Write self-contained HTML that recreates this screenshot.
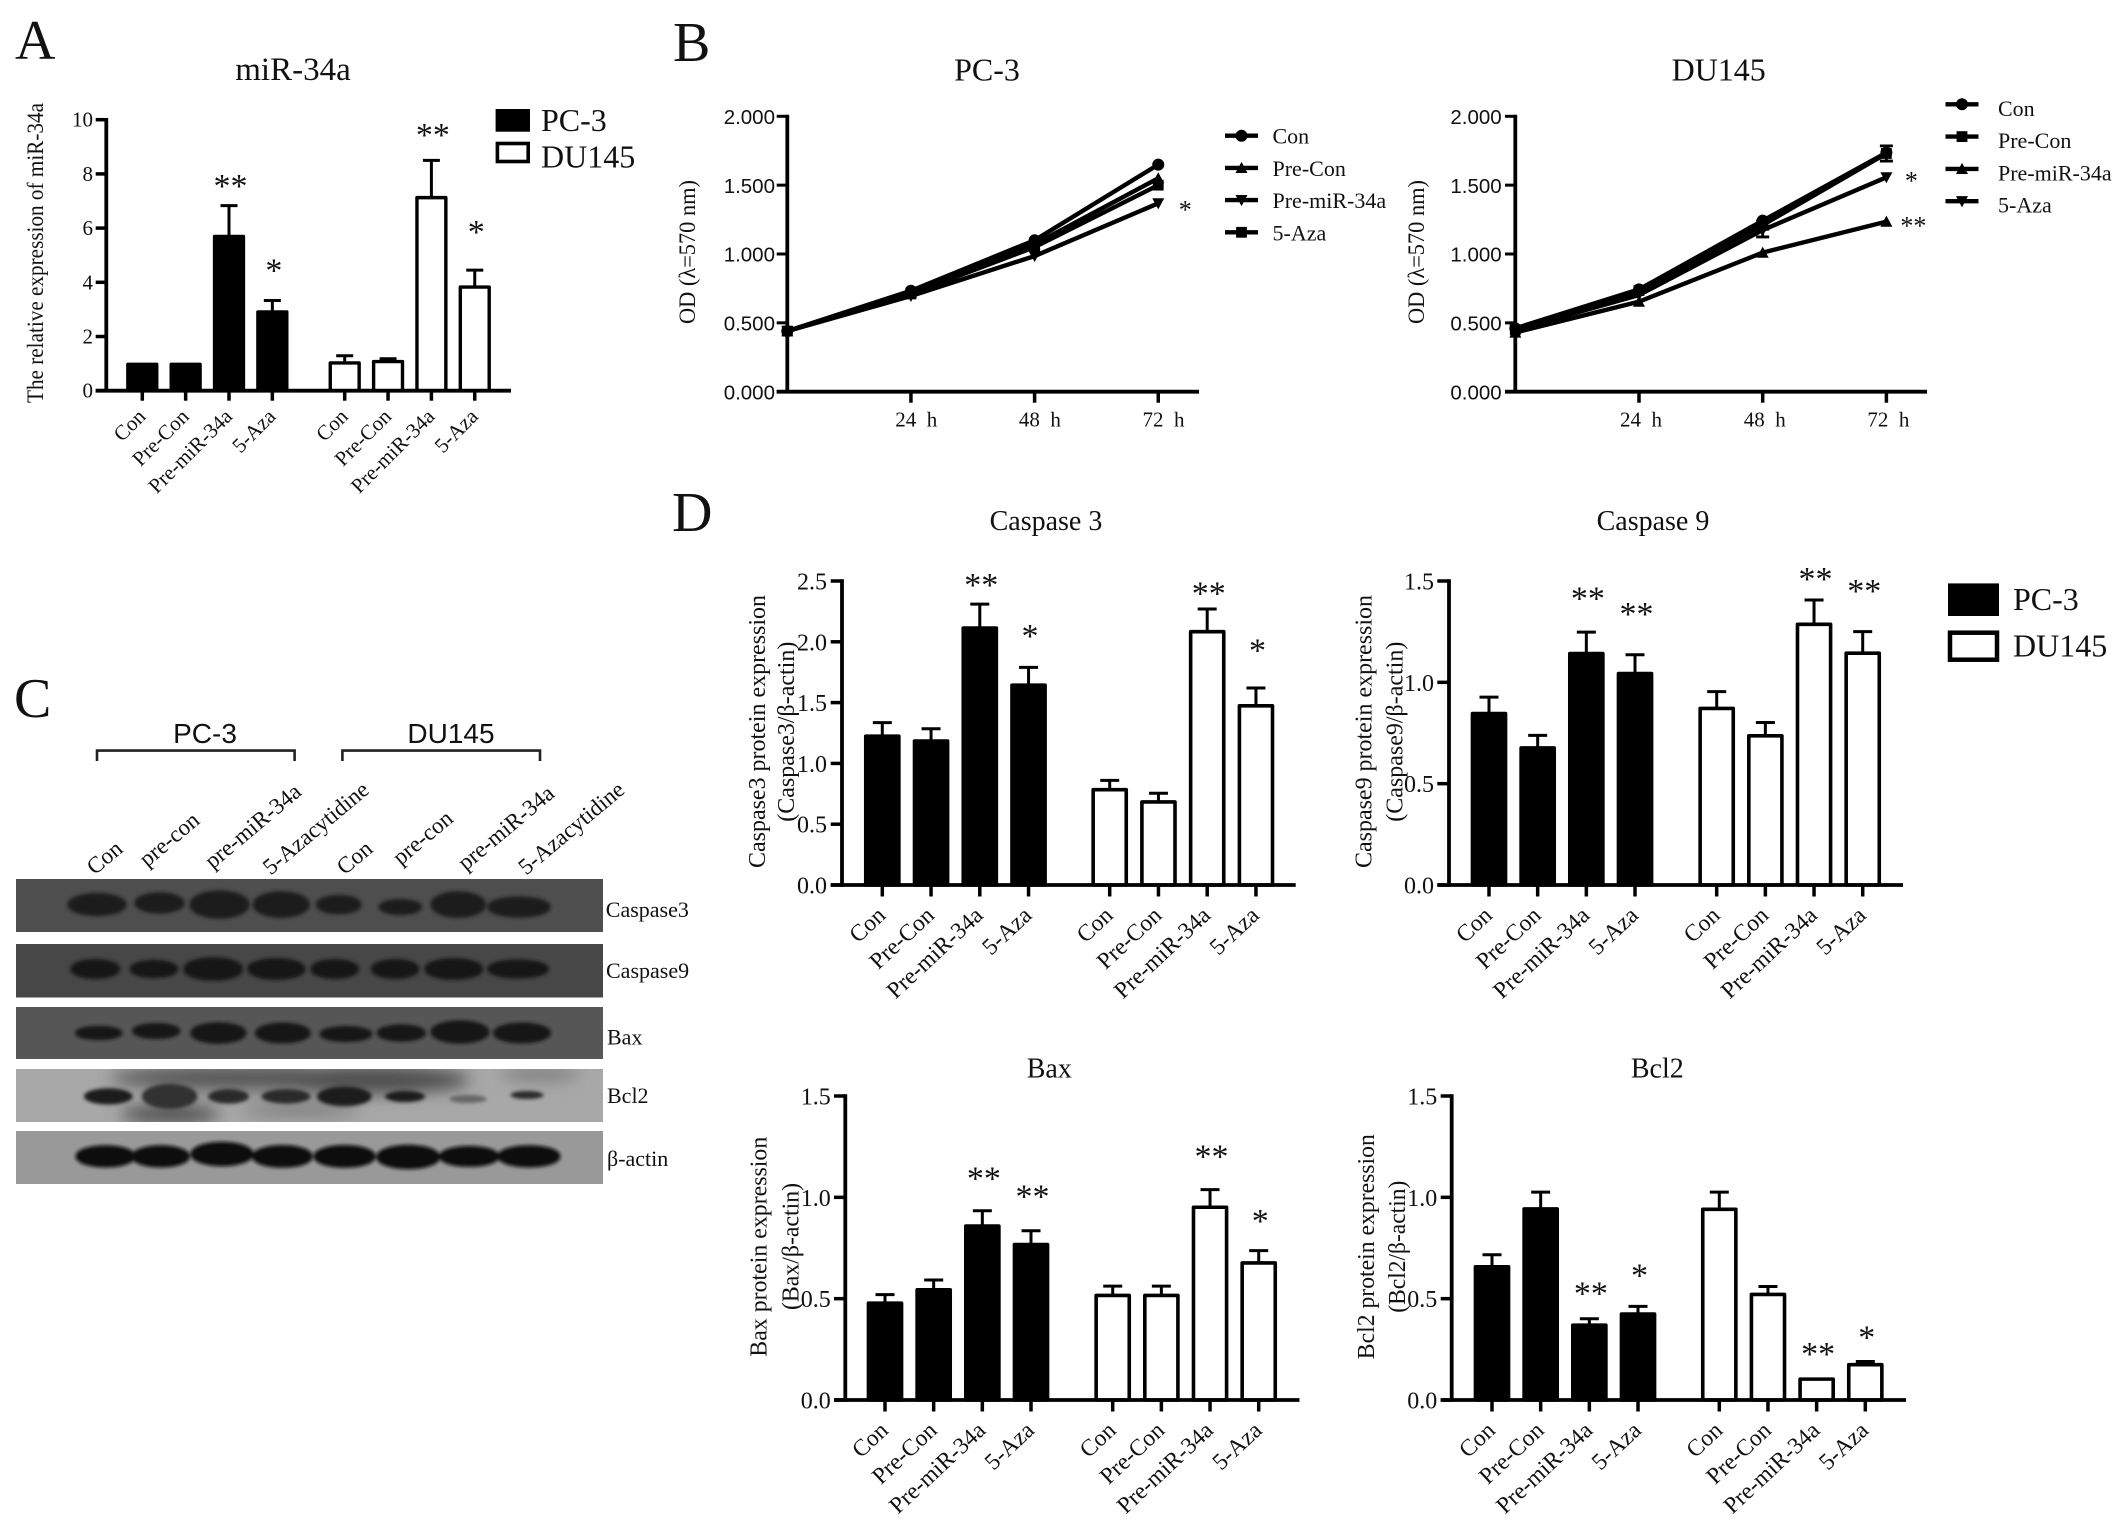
<!DOCTYPE html>
<html>
<head>
<meta charset="utf-8">
<title>miR-34a figure</title>
<style>
html,body{margin:0;padding:0;background:#fff;}
svg{display:block;}
text{font-family:"Liberation Serif","Noto Serif CJK SC",serif;fill:#111;}
.sans{font-family:"Liberation Sans","Noto Sans CJK SC",sans-serif;}
</style>
</head>
<body>
<svg id="figure" xmlns="http://www.w3.org/2000/svg" width="2126" height="1535" viewBox="0 0 2126 1535">
<defs>
<filter id="bandBlur" x="-30%" y="-60%" width="160%" height="220%"><feGaussianBlur stdDeviation="1.8"/></filter>
<filter id="smudgeBlur" x="-40%" y="-150%" width="180%" height="400%"><feGaussianBlur stdDeviation="8"/></filter>
<clipPath id="bcl2Clip"><rect x="16" y="1069" width="587" height="53"/></clipPath>
</defs>
<rect width="2126" height="1535" fill="#fff"/>

<text x="15" y="59" font-size="56">A</text>
<text x="673" y="61" font-size="56">B</text>
<text x="14" y="717" font-size="56">C</text>
<text x="672" y="531" font-size="56">D</text>

<text x="293" y="80" font-size="33" text-anchor="middle">miR-34a</text>
<text transform="translate(43 253) rotate(-90)" font-size="23" text-anchor="middle" textLength="300" lengthAdjust="spacingAndGlyphs">The relative expression of miR-34a</text>
<rect x="495.6" y="109" width="34.4" height="22.7" fill="#000"/>
<text x="541" y="131" font-size="32">PC-3</text>
<rect x="497.4" y="143.5" width="30.8" height="18" fill="#fff" stroke="#000" stroke-width="3.6"/>
<text x="541" y="167.7" font-size="32">DU145</text>

<text x="987" y="80.7" font-size="32" text-anchor="middle">PC-3</text>
<text x="1718.7" y="80.7" font-size="32" text-anchor="middle">DU145</text>
<text transform="translate(695 252) rotate(-90)" font-size="23" text-anchor="middle" textLength="144" lengthAdjust="spacingAndGlyphs">OD (λ=570 nm)</text>
<text transform="translate(1424 252) rotate(-90)" font-size="23" text-anchor="middle" textLength="144" lengthAdjust="spacingAndGlyphs">OD (λ=570 nm)</text>

<g>
<text class="sans" x="205" y="743" font-size="28" text-anchor="middle">PC-3</text>
<text class="sans" x="451" y="743" font-size="28" text-anchor="middle">DU145</text>
<path d="M97 761V750.6H294.6V761" fill="none" stroke="#222" stroke-width="2.6"/>
<path d="M342.4 761V750.6H540V761" fill="none" stroke="#222" stroke-width="2.6"/>

<text font-size="23" text-anchor="end" transform="translate(124 851) rotate(-40)">Con</text>
<text font-size="23" text-anchor="end" transform="translate(201 822.5) rotate(-40)">pre-con</text>
<text font-size="23" text-anchor="end" transform="translate(302.7 794) rotate(-40)">pre-miR-34a</text>
<text font-size="23" text-anchor="end" transform="translate(370.5 792) rotate(-40)">5-Azacytidine</text>
<text font-size="23" text-anchor="end" transform="translate(374 851) rotate(-40)">Con</text>
<text font-size="23" text-anchor="end" transform="translate(454.5 820.7) rotate(-40)">pre-con</text>
<text font-size="23" text-anchor="end" transform="translate(555.8 795.7) rotate(-40)">pre-miR-34a</text>
<text font-size="23" text-anchor="end" transform="translate(626 792) rotate(-40)">5-Azacytidine</text>

<g>
<rect x="16" y="879" width="587" height="53" fill="#4e4e4e"/>
<g fill="#1c1c1c" stroke="#1c1c1c" stroke-width="3.5" filter="url(#bandBlur)">
<ellipse cx="97.1" cy="904.6" rx="27.9" ry="9.8"/><ellipse cx="159.5" cy="903" rx="23.4" ry="8.9"/><ellipse cx="219.5" cy="904.6" rx="28.3" ry="12.5"/><ellipse cx="281.3" cy="904.6" rx="26.8" ry="11.6"/><ellipse cx="338.7" cy="904.6" rx="21.2" ry="8"/><ellipse cx="400.4" cy="907" rx="20" ry="6.3"/><ellipse cx="458.3" cy="904.6" rx="26" ry="11.6"/><ellipse cx="519" cy="907" rx="30" ry="8.9"/>
</g></g>
<g>
<rect x="16" y="944" width="587" height="53.5" fill="#474747"/>
<g fill="#171717" stroke="#171717" stroke-width="4" filter="url(#bandBlur)">
<ellipse cx="95.3" cy="969" rx="23" ry="8"/><ellipse cx="154" cy="969" rx="22.3" ry="7.1"/><ellipse cx="213.2" cy="969" rx="27.9" ry="9.8"/><ellipse cx="276.3" cy="969" rx="27.2" ry="8.9"/><ellipse cx="334.8" cy="969" rx="22.3" ry="8"/><ellipse cx="395.1" cy="969" rx="22.3" ry="8"/><ellipse cx="453.8" cy="969" rx="27.5" ry="8.9"/><ellipse cx="517.9" cy="969" rx="29" ry="7.5"/>
</g></g>
<g>
<rect x="16" y="1007" width="587" height="52" fill="#565656"/>
<g fill="#121212" stroke="#121212" stroke-width="3.5" filter="url(#bandBlur)">
<ellipse cx="98.7" cy="1033" rx="21.9" ry="5.4"/><ellipse cx="156.3" cy="1031" rx="22.3" ry="6.3"/><ellipse cx="218.3" cy="1033" rx="26.3" ry="8.9"/><ellipse cx="282.9" cy="1033" rx="26.1" ry="8.6"/><ellipse cx="346" cy="1034" rx="24.6" ry="6.3"/><ellipse cx="401.3" cy="1033" rx="22.8" ry="6.8"/><ellipse cx="460" cy="1032" rx="27.7" ry="9.8"/><ellipse cx="522" cy="1033" rx="27.2" ry="8.6"/>
</g></g>
<g>
<rect x="16" y="1069" width="587" height="53" fill="#a8a8a8"/>
<g clip-path="url(#bcl2Clip)" filter="url(#smudgeBlur)">
<ellipse cx="240" cy="1078" rx="130" ry="12" fill="#555"/><ellipse cx="170" cy="1114" rx="50" ry="9" fill="#4c4c4c"/><ellipse cx="370" cy="1080" rx="100" ry="14" fill="#4e4e4e"/><ellipse cx="540" cy="1074" rx="40" ry="6" fill="#777"/><ellipse cx="300" cy="1110" rx="60" ry="6" fill="#777"/>
</g>
<g fill="#1c1c1c" filter="url(#bandBlur)">
<ellipse cx="108.3" cy="1096.4" rx="24.4" ry="8.1"/><ellipse cx="169.6" cy="1096.4" rx="27.8" ry="12.6" fill="#333"/><ellipse cx="228.5" cy="1096.4" rx="20.4" ry="7.3" fill="#2a2a2a"/><ellipse cx="286" cy="1096.4" rx="24.4" ry="7.3" fill="#2a2a2a"/><ellipse cx="344.3" cy="1096.4" rx="27.3" ry="9.9"/><ellipse cx="405" cy="1096.4" rx="20" ry="5.6"/><ellipse cx="468" cy="1099" rx="18.9" ry="4" fill="#666"/><ellipse cx="527" cy="1095" rx="16.6" ry="4" fill="#2a2a2a"/>
</g></g>
<g>
<rect x="16" y="1131" width="587" height="53" fill="#999"/>
<g fill="#0f0f0f" stroke="#0f0f0f" stroke-width="5" filter="url(#bandBlur)">
<ellipse cx="105.5" cy="1156.4" rx="27.5" ry="8.6"/><ellipse cx="160.7" cy="1156.4" rx="26.8" ry="8.6"/><ellipse cx="222" cy="1154" rx="29" ry="9.8"/><ellipse cx="282.4" cy="1156.4" rx="27.9" ry="8.9"/><ellipse cx="344.6" cy="1156.4" rx="28.6" ry="8.9"/><ellipse cx="408.2" cy="1157" rx="29.5" ry="9.8"/><ellipse cx="469.3" cy="1156.4" rx="27.7" ry="8"/><ellipse cx="529" cy="1156.4" rx="29" ry="8.6"/>
</g></g>
<text x="605.8" y="917" font-size="22">Caspase3</text>
<text x="606" y="978" font-size="22">Caspase9</text>
<text x="607" y="1044.6" font-size="22">Bax</text>
<text x="607" y="1103" font-size="22">Bcl2</text>
<text x="607" y="1166" font-size="22">β-actin</text>
</g>

<text x="1046" y="530" font-size="28" text-anchor="middle">Caspase 3</text>
<text x="1653" y="530" font-size="28" text-anchor="middle">Caspase 9</text>
<text x="1049.3" y="1077.3" font-size="28" text-anchor="middle">Bax</text>
<text x="1657.3" y="1077.3" font-size="28" text-anchor="middle">Bcl2</text>

<text transform="translate(765 731.5) rotate(-90)" font-size="24" text-anchor="middle" textLength="273" lengthAdjust="spacingAndGlyphs">Caspase3 protein expression</text>
<text transform="translate(794 731.7) rotate(-90)" font-size="24" text-anchor="middle" textLength="180" lengthAdjust="spacingAndGlyphs">(Caspase3/β-actin)</text>
<text transform="translate(1371.7 731.5) rotate(-90)" font-size="24" text-anchor="middle" textLength="273" lengthAdjust="spacingAndGlyphs">Caspase9 protein expression</text>
<text transform="translate(1402.7 731.7) rotate(-90)" font-size="24" text-anchor="middle" textLength="180" lengthAdjust="spacingAndGlyphs">(Caspase9/β-actin)</text>
<text transform="translate(766.7 1246.7) rotate(-90)" font-size="24" text-anchor="middle" textLength="220" lengthAdjust="spacingAndGlyphs">Bax protein expression</text>
<text transform="translate(798.3 1246.5) rotate(-90)" font-size="24" text-anchor="middle" textLength="127" lengthAdjust="spacingAndGlyphs">(Bax/β-actin)</text>
<text transform="translate(1374 1246.7) rotate(-90)" font-size="24" text-anchor="middle" textLength="225" lengthAdjust="spacingAndGlyphs">Bcl2 protein expression</text>
<text transform="translate(1405 1246.7) rotate(-90)" font-size="24" text-anchor="middle" textLength="132" lengthAdjust="spacingAndGlyphs">(Bcl2/β-actin)</text>

<rect x="1948" y="583.4" width="51" height="32.6" fill="#000"/>
<text x="2013" y="610" font-size="32">PC-3</text>
<rect x="1950" y="632.7" width="47" height="27" fill="#fff" stroke="#000" stroke-width="4.5"/>
<text x="2013" y="656.5" font-size="32">DU145</text>
</svg>

<script>
// Shared categories
var barCategories = ['Con', 'Pre-Con', 'Pre-miR-34a', '5-Aza', 'Con', 'Pre-Con', 'Pre-miR-34a', '5-Aza'];
var lineTimes = [0, 24, 48, 72];
var lineTimeLabels = ['', '24\u00a0\u00a0h', '48\u00a0\u00a0h', '72\u00a0\u00a0h'];
var lineSeriesNames = ['Con', 'Pre-Con', 'Pre-miR-34a', '5-Aza'];
var lineYTicks = ['2.000', '1.500', '1.000', '0.500', '0.000'];

// Panel A: miR-34a
var mirTicks = ['10', '8', '6', '4', '2', '0'];
var mirValues = [1, 1, 5.72, 2.93, 1.05, 1.1, 7.15, 3.85];
var mirCaps = [1, 1, 6.83, 3.33, 1.29, 1.18, 8.5, 4.45];
var mirStars = ['', '', '**', '*', '', '', '**', '*'];
var mirStarLevels = [0, 0, 7.7, 4.58, 0, 0, 9.58, 6.01];

// Panel D: Caspase 3
var c3Ticks = ['2.5', '2.0', '1.5', '1.0', '0.5', '0.0'];
var c3Values = [1.23, 1.19, 2.12, 1.65, 0.79, 0.69, 2.09, 1.48];
var c3Caps = [1.335, 1.285, 2.31, 1.79, 0.86, 0.755, 2.27, 1.62];
var c3Stars = ['', '', '**', '*', '', '', '**', '*'];
var c3StarLevels = [0, 0, 2.5, 2.08, 0, 0, 2.43, 1.96];

// Panel D: Caspase 9
var c9Ticks = ['1.5', '1.0', '0.5', '0.0'];
var c9Values = [0.85, 0.68, 1.146, 1.047, 0.875, 0.74, 1.29, 1.148];
var c9Caps = [0.927, 0.738, 1.248, 1.136, 0.954, 0.802, 1.406, 1.25];
var c9Stars = ['', '', '**', '**', '', '', '**', '**'];
var c9StarLevels = [0, 0, 1.434, 1.357, 0, 0, 1.529, 1.47];

// Panel D: Bax
var baxTicks = ['1.5', '1.0', '0.5', '0.0'];
var baxValues = [0.482, 0.548, 0.862, 0.771, 0.52, 0.52, 0.955, 0.68];
var baxCaps = [0.52, 0.592, 0.934, 0.835, 0.562, 0.562, 1.038, 0.737];
var baxStars = ['', '', '**', '**', '', '', '**', '*'];
var baxStarLevels = [0, 0, 1.113, 1.023, 0, 0, 1.22, 0.903];

// Panel D: Bcl2
var bclTicks = ['1.5', '1.0', '0.5', '0.0'];
var bclValues = [0.661, 0.947, 0.373, 0.428, 0.945, 0.525, 0.107, 0.178];
var bclCaps = [0.717, 1.026, 0.401, 0.462, 1.026, 0.56, 0.107, 0.19];
var bclStars = ['', '', '**', '*', '', '', '**', '*'];
var bclStarLevels = [0, 0, 0.546, 0.633, 0, 0, 0.247, 0.329];

// Panel B: PC-3 growth (OD at 0, 24, 48, 72 h)
var pcCon = [0.44, 0.733, 1.1, 1.649];
var pcPreCon = [0.44, 0.72, 1.07, 1.55];
var pcPreMir = [0.44, 0.695, 0.985, 1.368];
var pcAza = [0.44, 0.71, 1.05, 1.5];
var pcStarLevel = 1.34;

// Panel B: DU145 growth
var duCon = [0.46, 0.743, 1.242, 1.736];
var duPreCon = [0.45, 0.735, 1.21, 1.73];
var duPreMir = [0.43, 0.654, 1.01, 1.235];
var duAza = [0.45, 0.702, 1.174, 1.557];
var duPreConErr = [0, 0, 0.03, 0.055];
var duAzaErr = [0, 0, 0.05, 0];
var duStarLevels = [1.552, 1.225];

var svg = document.getElementById('figure');
var NS = 'http://www.w3.org/2000/svg';

function mk(tag, parent, geom, txt) {
  var e = document.createElementNS(NS, tag);
  for (var k in geom) { e.setAttribute(k, geom[k]); }
  if (txt !== undefined) { e.textContent = txt; }
  parent.appendChild(e);
  return e;
}

function drawBarPanel(p) {
  var g = mk('g', svg, {});
  
  
  var yScale = function (v) { return p.base - v * (p.base - p.top) / p.max; };
  var xScale = function (i) { return i < 4 ? p.first + p.step * i : p.second + p.step * (i - 4); };
  var innerW = p.barW - p.sw;

  p.values.forEach(function (v, i) {
    var cx = xScale(i), cap = p.caps[i];
    if (cap > v) {
      var stem = mk('line', g, { x1: cx, x2: cx, y1: yScale(v), y2: yScale(cap), stroke: '#000', 'stroke-width': 3 });
      
      
      var capLine = mk('line', g, { x1: cx - p.capW / 2, x2: cx + p.capW / 2, y1: yScale(cap), y2: yScale(cap), stroke: '#000', 'stroke-width': 3 });
      
      
    }
    var topY = yScale(v) + p.sw / 2 - 1;
    var bar = mk('rect', g, { x: cx - innerW / 2, y: topY, width: innerW, height: Math.max(0, p.base - topY), fill: i < 4 ? '#000' : '#fff', stroke: '#000', 'stroke-width': p.sw, 'stroke-linejoin': 'round' });
    
    

    var tick = mk('line', g, { x1: cx, x2: cx, y1: p.base, y2: p.base + p.tickLen, stroke: '#000', 'stroke-width': 3.5 });
    
    

    var ax = cx + 4.5, ay = p.base + p.labelDrop;
    var lab = mk('text', g, { 'font-size': p.xFont, 'text-anchor': 'end', transform: 'translate(' + ax + ' ' + ay + ') rotate(' + p.xRot + ')' }, barCategories[i]);
    
    

    if (p.stars[i]) {
      var star = mk('text', g, { x: cx + 1.5, y: yScale(p.starLevels[i]) + 0.44 * 34, 'font-size': 34, 'text-anchor': 'middle' }, p.stars[i]);
      
      
    }
  });

  p.ticks.forEach(function (t) {
    var ty = yScale(parseFloat(t));
    var tm = mk('line', g, { x1: p.tickLeft, x2: p.axisX, y1: ty, y2: ty, stroke: '#000', 'stroke-width': 3.5 });
    
    
    var tl = mk('text', g, { x: p.labelRight, y: ty + p.yLabelDrop, 'font-size': p.yFont, 'text-anchor': 'end' }, t);
    
    
  });

  var yAxis = mk('line', g, { x1: p.axisX, x2: p.axisX, y1: p.top - 1.7, y2: p.base + 1.7, stroke: '#000', 'stroke-width': 3.8 });
  
  
  var xAxis = mk('line', g, { x1: p.tickLeft, x2: p.right, y1: p.base, y2: p.base, stroke: '#000', 'stroke-width': 3.8 });
  
  
}

function markerPath(kind, x, y, r) {
  if (kind === 'up') { return 'M' + (x - r) + ' ' + (y + r * 0.85) + 'L' + (x + r) + ' ' + (y + r * 0.85) + 'L' + x + ' ' + (y - r) + 'Z'; }
  if (kind === 'down') { return 'M' + (x - r) + ' ' + (y - r * 0.85) + 'L' + (x + r) + ' ' + (y - r * 0.85) + 'L' + x + ' ' + (y + r) + 'Z'; }
  if (kind === 'square') { return 'M' + (x - r) + ' ' + (y - r) + 'H' + (x + r) + 'V' + (y + r) + 'H' + (x - r) + 'Z'; }
  return 'M' + (x - r) + ' ' + y + 'A' + r + ' ' + r + ' 0 1 1 ' + (x + r) + ' ' + y + 'A' + r + ' ' + r + ' 0 1 1 ' + (x - r) + ' ' + y + 'Z';
}

function drawLinePanel(p) {
  var g = mk('g', svg, {});
  
  
  var maxY = 2;
  var yScale = function (v) { return p.base - v * (p.base - p.top) / maxY; };
  var xScale = function (h) { return p.axisX + h * p.pxPerHour; };

  lineYTicks.forEach(function (t) {
    var ty = yScale(parseFloat(t));
    var tm = mk('line', g, { x1: p.tickLeft, x2: p.axisX, y1: ty, y2: ty, stroke: '#000', 'stroke-width': 3 });
    
    
    var tl = mk('text', g, { x: p.labelRight, y: ty + 7.7, 'font-size': 20.5, 'text-anchor': 'end', 'class': 'sans' }, t);
    
    
  });

  lineTimes.forEach(function (h, i) {
    if (i === 0) { return; }
    var tx = xScale(h);
    var tk = mk('line', g, { x1: tx, x2: tx, y1: p.base, y2: p.base + 11, stroke: '#000', 'stroke-width': 3.5 });
    
    
    var tl = mk('text', g, { x: tx + p.xLabelDx, y: 426.4, 'font-size': 21 }, lineTimeLabels[i]);
    
    
  });

  var yAxis = mk('line', g, { x1: p.axisX, x2: p.axisX, y1: p.top - 1.5, y2: p.base + 1.5, stroke: '#000', 'stroke-width': 3.8 });
  
  
  var xAxis = mk('line', g, { x1: p.tickLeft, x2: p.right, y1: p.base, y2: p.base, stroke: '#000', 'stroke-width': 3.8 });
  
  

  p.series.forEach(function (s) {
    var pts = s.values.map(function (v, i) { return xScale(lineTimes[i]) + ',' + yScale(v); }).join(' ');
    var line = mk('polyline', g, { points: pts, fill: 'none', stroke: '#000', 'stroke-width': 4.4 });
    
    
    s.values.forEach(function (v, i) {
      var cx = xScale(lineTimes[i]), cy = yScale(v);
      var err = s.err ? s.err[i] : 0;
      if (err > 0) {
        var eb = mk('path', g, { d: 'M' + (cx - 6.5) + ' ' + yScale(v + err) + 'H' + (cx + 6.5) + 'M' + cx + ' ' + yScale(v + err) + 'V' + yScale(v - err) + 'M' + (cx - 6.5) + ' ' + yScale(v - err) + 'H' + (cx + 6.5), fill: 'none', stroke: '#000', 'stroke-width': 2.8 });
        
        
      }
      var m = mk('path', g, { d: markerPath(s.marker, cx, cy, s.marker === 'square' ? 5.4 : 6), fill: '#000' });
      
      
    });
  });

  p.series.forEach(function (s, i) {
    var ly = p.legendY + i * p.legendStep;
    var ll = mk('line', g, { x1: p.legendX, x2: p.legendX + 33, y1: ly, y2: ly, stroke: '#000', 'stroke-width': 4.4 });
    
    
    var lm = mk('path', g, { d: markerPath(s.marker, p.legendX + 16.5, ly, s.marker === 'square' ? 5.4 : 6), fill: '#000' });
    
    
    var lt = mk('text', g, { x: p.legendTextX, y: ly + p.legendTextDrop, 'font-size': 22 }, lineSeriesNames[i]);
    
    
  });

  p.marks.forEach(function (mark) {
    var st = mk('text', g, { x: xScale(72) + mark.dx, y: yScale(mark.level) + 0.44 * 26, 'font-size': 26, 'text-anchor': 'middle' }, mark.text);
    
    
  });
}

drawBarPanel({ values: mirValues, caps: mirCaps, stars: mirStars, starLevels: mirStarLevels, ticks: mirTicks, max: 10,
  axisX: 106.3, base: 390.7, top: 119.7, tickLeft: 95.7, right: 511, labelRight: 93, yLabelDrop: 7, yFont: 21,
  first: 142.3, second: 344.7, step: 43.35, barW: 32.3, sw: 3.4, capW: 17, tickLen: 10, labelDrop: 27, xFont: 21, xRot: -45 });

drawBarPanel({ values: c3Values, caps: c3Caps, stars: c3Stars, starLevels: c3StarLevels, ticks: c3Ticks, max: 2.5,
  axisX: 842, base: 885, top: 581, tickLeft: 830.7, right: 1295.7, labelRight: 827, yLabelDrop: 8.5, yFont: 24,
  first: 882.3, second: 1109.7, step: 48.75, barW: 36.7, sw: 3.6, capW: 19, tickLen: 11.5, labelDrop: 32, xFont: 23.5, xRot: -43 });

drawBarPanel({ values: c9Values, caps: c9Caps, stars: c9Stars, starLevels: c9StarLevels, ticks: c9Ticks, max: 1.5,
  axisX: 1449, base: 885, top: 581, tickLeft: 1437.3, right: 1903, labelRight: 1434, yLabelDrop: 8.5, yFont: 24,
  first: 1489, second: 1716.7, step: 48.67, barW: 36.7, sw: 3.6, capW: 19, tickLen: 11.5, labelDrop: 32, xFont: 23.5, xRot: -43 });

drawBarPanel({ values: baxValues, caps: baxCaps, stars: baxStars, starLevels: baxStarLevels, ticks: baxTicks, max: 1.5,
  axisX: 845.3, base: 1400, top: 1096, tickLeft: 834, right: 1299.5, labelRight: 830.7, yLabelDrop: 8.5, yFont: 24,
  first: 885, second: 1112.7, step: 48.67, barW: 36.7, sw: 3.6, capW: 19, tickLen: 11.5, labelDrop: 32, xFont: 23.5, xRot: -43 });

drawBarPanel({ values: bclValues, caps: bclCaps, stars: bclStars, starLevels: bclStarLevels, ticks: bclTicks, max: 1.5,
  axisX: 1451.7, base: 1400, top: 1096, tickLeft: 1440.7, right: 1906, labelRight: 1437.3, yLabelDrop: 8.5, yFont: 24,
  first: 1492, second: 1719.3, step: 48.67, barW: 36.7, sw: 3.6, capW: 19, tickLen: 11.5, labelDrop: 32, xFont: 23.5, xRot: -43 });

drawLinePanel({ axisX: 787.3, base: 391.7, top: 116.3, tickLeft: 776.7, right: 1199, labelRight: 775, pxPerHour: 5.152, xLabelDx: -15.7,
  legendX: 1225, legendY: 135.7, legendStep: 32.2, legendTextX: 1272.5, legendTextDrop: 8,
  series: [
    { values: pcCon, marker: 'circle' },
    { values: pcPreCon, marker: 'up' },
    { values: pcPreMir, marker: 'down' },
    { values: pcAza, marker: 'square' }
  ],
  marks: [{ text: '*', level: pcStarLevel, dx: 27 }] });

drawLinePanel({ axisX: 1515.3, base: 391.7, top: 116.3, tickLeft: 1505, right: 1927, labelRight: 1501.7, pxPerHour: 5.154, xLabelDx: -19,
  legendX: 1945.5, legendY: 104.3, legendStep: 32.3, legendTextX: 1998, legendTextDrop: 11.5,
  series: [
    { values: duCon, marker: 'circle' },
    { values: duPreCon, marker: 'square', err: duPreConErr },
    { values: duPreMir, marker: 'up' },
    { values: duAza, marker: 'down', err: duAzaErr }
  ],
  marks: [{ text: '*', level: duStarLevels[0], dx: 25 }, { text: '**', level: duStarLevels[1], dx: 27 }] });
</script>
</body>
</html>
